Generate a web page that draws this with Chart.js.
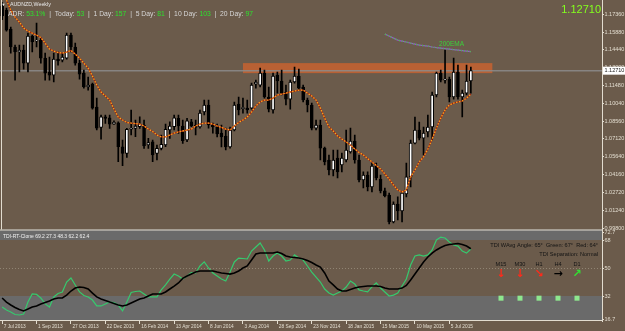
<!DOCTYPE html>
<html><head><meta charset="utf-8">
<script src="https://cdn.jsdelivr.net/npm/chart.js@4.4.1/dist/chart.umd.min.js"></script>
<style>html,body{margin:0;padding:0;background:#6b5b4b;overflow:hidden}canvas{display:block}</style>
</head><body><canvas id="c" width="625" height="331"></canvas>
<script>
// ---------- DATA ----------
const symbolTitle = 'AUDNZD,Weekly';
const dateLabels = ['7 Jul 2013','1 Sep 2013','27 Oct 2013','22 Dec 2013','16 Feb 2014','13 Apr 2014','8 Jun 2014','3 Aug 2014','28 Sep 2014','23 Nov 2014','18 Jan 2015','15 Mar 2015','10 May 2015','5 Jul 2015'];
const weeksPerDateLabel = 8;
const weeksVisible = 140;
const priceTicks = [1.17360,1.15880,1.14440,1.13000,1.11480,1.10040,1.08560,1.07120,1.05640,1.04160,1.02720,1.01240,0.99800];
const tdiTicks = [72.7,68,50,32,16.7];
const tdiLevels = [68,50,32];

const open = [
1.1800,1.1768,1.1612,1.1465,1.1424,1.1440,1.1333,1.1555,1.1514,1.1522,
1.1374,1.1260,1.1235,1.1366,1.1358,1.1374,1.1563,1.1465,1.1333,1.1251,
1.1137,1.1161,1.0973,1.0806,1.0893,1.0885,1.0833,1.0844,1.0647,1.0593,
1.0790,1.0798,1.0811,1.0825,1.0661,1.0688,1.0593,1.0634,1.0661,1.0784,
1.0811,1.0880,1.0817,1.0702,1.0852,1.0825,1.0809,1.0932,1.0989,1.0825,
1.0809,1.0759,1.0735,1.0645,1.0784,1.0997,1.0960,1.0964,1.0964,1.1161,
1.1153,1.1251,1.1055,1.0948,1.1235,1.1186,1.1096,1.1038,1.1178,1.1227,
1.1137,1.1030,1.0989,1.0800,1.0825,1.0636,1.0538,1.0456,1.0554,1.0497,
1.0538,1.0604,1.0694,1.0538,1.0374,1.0415,1.0317,1.0489,1.0382,1.0284,
1.0251,1.0030,1.0177,1.0120,1.0259,1.0399,1.0677,1.0784,1.0718,1.0768,
1.0809,1.1071,1.1251,1.1194,1.1202,1.1055,1.1260,1.1055,1.1087,1.1186];
const high = [
1.1830,1.1784,1.1629,1.1481,1.1481,1.1481,1.1579,1.1563,1.1661,1.1538,
1.1415,1.1383,1.1415,1.1424,1.1415,1.1579,1.1579,1.1497,1.1358,1.1276,
1.1219,1.1169,1.1046,1.0907,1.0907,1.0907,1.0860,1.0852,1.0702,1.0798,
1.0948,1.0866,1.0893,1.0866,1.0716,1.0702,1.0661,1.0743,1.0833,1.0852,
1.0907,1.0907,1.0866,1.0880,1.0872,1.0866,1.0948,1.1030,1.1030,1.0841,
1.0833,1.0825,1.0800,1.0809,1.1014,1.1055,1.1046,1.1030,1.1169,1.1194,
1.1292,1.1276,1.1137,1.1251,1.1260,1.1276,1.1153,1.1194,1.1301,1.1284,
1.1153,1.1046,1.1005,1.0866,1.0866,1.0645,1.0579,1.0620,1.0620,1.0595,
1.0784,1.0800,1.0743,1.0579,1.0440,1.0440,1.0513,1.0513,1.0415,1.0308,
1.0267,1.0194,1.0235,1.0276,1.0513,1.0702,1.0891,1.0850,1.0809,1.0907,
1.1096,1.1260,1.1276,1.1440,1.1219,1.1374,1.1317,1.1112,1.1317,1.1301];
const low = [
1.1690,1.1596,1.1415,1.1194,1.1260,1.1284,1.1260,1.1424,1.1465,1.1333,
1.1194,1.1194,1.1178,1.1317,1.1342,1.1366,1.1424,1.1317,1.1202,1.1128,
1.1112,1.0956,1.0784,1.0708,1.0839,1.0798,1.0829,1.0524,1.0491,1.0560,
1.0743,1.0729,1.0798,1.0634,1.0634,1.0524,1.0538,1.0620,1.0647,1.0716,
1.0784,1.0757,1.0675,1.0688,1.0811,1.0743,1.0800,1.0907,1.0800,1.0759,
1.0727,1.0645,1.0620,1.0636,1.0776,1.0907,1.0923,1.0923,1.0956,1.1128,
1.1137,1.1046,1.0932,1.0923,1.1087,1.1071,1.0989,1.0956,1.1169,1.1112,
1.1014,1.0932,1.0784,1.0784,1.0538,1.0497,1.0415,1.0407,1.0390,1.0440,
1.0522,1.0595,1.0513,1.0358,1.0308,1.0284,1.0276,1.0374,1.0267,1.0235,
1.0013,1.0021,1.0046,1.0030,1.0235,1.0317,1.0669,1.0702,1.0579,1.0727,
1.0702,1.1055,1.1178,1.1169,1.1014,1.1038,1.1038,1.0891,1.1071,1.1087];
const close = [
1.1720,1.1604,1.1465,1.1424,1.1440,1.1333,1.1555,1.1506,1.1522,1.1374,
1.1251,1.1235,1.1366,1.1350,1.1383,1.1563,1.1465,1.1333,1.1243,1.1137,
1.1153,1.0964,1.0800,1.0893,1.0880,1.0833,1.0847,1.0647,1.0593,1.0790,
1.0798,1.0817,1.0833,1.0653,1.0680,1.0579,1.0634,1.0667,1.0790,1.0817,
1.0885,1.0817,1.0696,1.0860,1.0817,1.0806,1.0923,1.0989,1.0825,1.0809,
1.0751,1.0727,1.0645,1.0784,1.0989,1.0948,1.0969,1.0948,1.1153,1.1178,
1.1251,1.1055,1.0956,1.1227,1.1186,1.1087,1.1038,1.1178,1.1227,1.1128,
1.1030,1.0989,1.0800,1.0825,1.0636,1.0522,1.0456,1.0538,1.0440,1.0554,
1.0620,1.0694,1.0538,1.0374,1.0415,1.0317,1.0489,1.0390,1.0284,1.0243,
1.0030,1.0177,1.0120,1.0267,1.0399,1.0677,1.0784,1.0718,1.0759,1.0809,
1.1071,1.1251,1.1194,1.1202,1.1055,1.1260,1.1055,1.1087,1.1186,1.1271];

const emaFast = [
1.1883,1.1850,1.1768,1.1711,1.1670,1.1620,1.1596,1.1579,1.1563,1.1543,
1.1497,1.1448,1.1432,1.1420,1.1415,1.1424,1.1436,1.1407,1.1374,1.1333,
1.1292,1.1227,1.1153,1.1096,1.1063,1.1030,1.0956,1.0891,1.0866,1.0846,
1.0841,1.0837,1.0833,1.0817,1.0792,1.0772,1.0743,1.0727,1.0727,1.0743,
1.0759,1.0768,1.0776,1.0784,1.0792,1.0817,1.0833,1.0841,1.0841,1.0833,
1.0817,1.0805,1.0792,1.0784,1.0817,1.0846,1.0866,1.0891,1.0932,1.0981,
1.1014,1.1030,1.1030,1.1046,1.1071,1.1079,1.1087,1.1096,1.1104,1.1112,
1.1112,1.1087,1.1063,1.1030,1.0964,1.0882,1.0809,1.0776,1.0735,1.0710,
1.0686,1.0661,1.0628,1.0600,1.0579,1.0550,1.0522,1.0493,1.0464,1.0423,
1.0382,1.0333,1.0292,1.0276,1.0292,1.0399,1.0456,1.0522,1.0563,1.0628,
1.0710,1.0800,1.0882,1.0948,1.0989,1.1005,1.1014,1.1022,1.1046,1.1079];
const ema200Start = 89;
const ema200 = [1.1571,1.1555,1.1538,1.1522,1.1514,1.1506,1.1497,1.1489,1.1481,1.1477,1.1473,1.1465,1.1460,1.1456,1.1452,1.1448,1.1444,1.1440,1.1436,1.1432,1.1428];

const tdiGreen = [
24.9,23.0,21.7,20.1,19.8,20.4,28.1,33.3,33.0,30.7,
26.9,24.9,31.4,33.6,34.6,41.0,43.6,39.1,34.6,32.3,
31.4,29.4,25.6,25.6,26.9,28.1,27.8,26.2,22.4,28.1,
34.3,34.9,35.2,33.3,31.4,31.4,31.4,35.9,39.1,42.9,
46.1,44.9,42.9,44.9,47.1,46.8,51.3,53.9,50.0,46.8,
44.9,42.9,41.6,47.4,53.9,56.4,56.1,55.8,60.9,63.5,
66.1,61.6,54.5,57.7,59.6,57.7,54.5,55.1,58.4,56.4,
55.1,51.3,47.4,44.2,41.0,36.5,33.9,32.6,33.9,35.2,
37.8,41.6,39.7,35.9,35.2,34.6,37.8,40.4,37.1,34.6,
32.0,32.6,33.9,38.4,42.9,51.9,57.7,58.4,57.7,58.4,
61.6,68.0,69.9,69.3,66.7,64.8,64.1,60.9,59.6,62.2];
const tdiSignal = [
30.7,28.1,26.2,24.6,23.3,22.4,23.6,24.9,25.6,26.9,
27.8,28.8,30.1,30.7,30.7,32.6,35.2,37.1,37.8,37.5,
36.5,33.9,31.4,30.1,29.1,28.1,27.2,26.2,25.6,26.2,
27.5,28.8,30.1,30.7,32.0,33.3,33.3,33.3,34.6,36.5,
38.4,40.4,43.3,44.9,46.1,47.4,48.1,48.1,48.1,48.1,
47.4,46.8,46.5,46.1,46.8,48.1,50.0,51.3,55.1,59.0,
59.6,59.6,59.6,59.6,60.3,59.3,57.7,57.1,56.7,56.4,
55.8,54.8,53.5,51.9,50.6,46.8,41.6,39.1,36.5,35.2,
35.2,36.2,37.1,37.8,38.1,38.4,38.4,38.4,38.1,37.1,
36.5,36.5,36.5,37.1,38.8,42.3,46.1,50.0,53.9,57.1,
59.6,61.6,63.2,64.5,65.1,65.4,65.7,65.1,64.1,62.4];

const zone = {fromWeek:56, toWeek:114, top:1.1333, bottom:1.1251};
const adrParts = [['ADR: ',0],['53.1%',1],['  |  Today: ',0],['53',1],['  |  1 Day: ',0],['157',1],['  |  5 Day: ',0],['81',1],['  |  10 Day: ',0],['103',1],['  |  20 Day: ',0],['97',1]];
const tdiHeader = 'TDI-RT-Clone 69.2 27.3 48.3 62.2 62.4';
const tdiInfo = ['TDI WAvg Angle: 65°  Green: 67°  Red: 64°','TDI Separation: Normal'];
const timeframes = ['M15','M30','H1','H4','D1'];
const tfArrows = ['↓','↓','↘','→','↗'];
const tfArrowColors = ['#ff2a1a','#ff2a1a','#ff2a1a','#000000','#33e033'];
const emaLabel = {text:'200EMA', week:104.5, price:1.1489};

// ---------- STYLE ----------
const BG='#6b5b4b', GRAY='#6a6a6a', CREAM='#e2dccf';
const FONT='Liberation Sans';
Chart.defaults.font.family = FONT;

const wickData = open.map((o,i)=>({x:i,y:[low[i],high[i]]}));
const bodyData = open.map((o,i)=>({x:i,y:[o,close[i]]}));
const bodyColors = open.map((o,i)=> close[i]>=o ? '#ffffff' : '#000000');
const pts = (arr,start=0)=>arr.map((v,i)=>({x:i+start,y:v}));

const decor = {
  id:'decor',
  beforeDraw(chart){
    const c=chart.ctx; c.save(); c.fillStyle=BG; c.fillRect(0,0,chart.width,chart.height); c.restore();
  },
  beforeDatasetsDraw(chart){
    const c=chart.ctx, ca=chart.chartArea, {x,y,y2}=chart.scales;
    c.save();
    const yHi=y2.getPixelForValue(tdiLevels[0]), yLo=y2.getPixelForValue(tdiLevels[2]);
    c.fillStyle=GRAY;
    c.fillRect(ca.left,y2.top,ca.right-ca.left,yHi-y2.top);
    c.fillRect(ca.left,yLo,ca.right-ca.left,y2.bottom-yLo);
    const y50=Math.round(y2.getPixelForValue(tdiLevels[1]))+0.5;
    c.strokeStyle='rgba(175,165,150,0.55)'; c.lineWidth=1; c.setLineDash([1,2]);
    c.beginPath(); c.moveTo(ca.left,y50); c.lineTo(ca.right,y50); c.stroke(); c.setLineDash([]);
    const zx0=x.getPixelForValue(zone.fromWeek), zx1=x.getPixelForValue(zone.toWeek);
    const zy0=y.getPixelForValue(zone.top), zy1=y.getPixelForValue(zone.bottom);
    c.fillStyle='rgba(192,98,50,0.92)';
    c.fillRect(zx0,zy0,zx1-zx0,zy1-zy0);
    const by=y.getPixelForValue(close[close.length-1]);
    c.strokeStyle='rgba(140,140,140,0.85)'; c.lineWidth=1.5;
    c.beginPath(); c.moveTo(ca.left,by); c.lineTo(ca.right,by); c.stroke();
    c.restore();
  },
  afterDraw(chart){
    const c=chart.ctx, ca=chart.chartArea, {x,y,y2}=chart.scales;
    c.save();
    c.strokeStyle=CREAM; c.lineWidth=1;
    c.beginPath(); c.moveTo(ca.left,y2.top+0.5); c.lineTo(ca.right,y2.top+0.5); c.stroke();
    c.beginPath(); c.moveTo(ca.left,y2.bottom-0.5); c.lineTo(ca.right,y2.bottom-0.5); c.stroke();
    c.beginPath(); c.moveTo(1.5,0); c.lineTo(1.5,y.bottom); c.stroke();
    c.textBaseline='middle'; c.textAlign='left';
    c.fillStyle='#e8e8e8'; c.font='4px '+FONT; c.fillText('▼',1.5,4.5);
    c.font='5.3px '+FONT; c.fillText(symbolTitle,10,4.5);
    c.font='6.8px '+FONT; let ax=8;
    adrParts.forEach(([t,isVal])=>{ c.fillStyle=isVal?'#2ee02e':'#d6d6d6'; c.fillText(t,ax,14.5); ax+=c.measureText(t).width; });
    c.textAlign='right'; c.fillStyle='#84ff1e'; c.font='11px '+FONT;
    c.fillText(close[close.length-1].toFixed(5),601,10);
    const by=y.getPixelForValue(close[close.length-1]);
    c.fillStyle='#ffffff'; c.fillRect(603,by-4,22,8);
    c.fillStyle='#202020'; c.textAlign='left'; c.font='5.5px '+FONT;
    c.fillText(close[close.length-1].toFixed(5),604.5,by+0.3);
    c.fillStyle='#3ccf3c'; c.textAlign='center'; c.font='6.5px '+FONT;
    c.fillText(emaLabel.text,x.getPixelForValue(emaLabel.week),y.getPixelForValue(emaLabel.price));
    c.textAlign='left'; c.fillStyle='#f0f0f0'; c.font='5px '+FONT;
    c.fillText(tdiHeader,3,y2.top+7);
    c.textAlign='right'; c.fillStyle='#141414'; c.font='5.6px '+FONT;
    c.fillText(tdiInfo[0],598,y2.getPixelForValue(64.2));
    c.fillText(tdiInfo[1],598,y2.getPixelForValue(59.0));
    c.textAlign='center';
    const tfY=y2.getPixelForValue(52.5), arY=y2.getPixelForValue(45.9), sqY=y2.getPixelForValue(30.6);
    timeframes.forEach((tf,k)=>{
      const cx=501+k*19;
      c.fillStyle='#141414'; c.font='5.6px '+FONT; c.fillText(tf,cx,tfY);
      c.fillStyle=tfArrowColors[k]; c.font='bold 11px DejaVu Sans'; c.fillText(tfArrows[k],cx,arY);
      c.fillStyle='#8ee88e'; c.fillRect(cx-2.5,sqY-2.5,5,5);
    });
    c.restore();
  }
};

const yAfterFit = s => { s.width=23; s.paddingTop=0; s.paddingBottom=0; };

new Chart(document.getElementById('c'), {
  type:'line',
  data:{datasets:[
    {type:'line',label:'ema fast dots',data:pts(emaFast),yAxisID:'y',borderColor:'#ffa21c',borderWidth:1.3,borderDash:[1.5,1.5],pointRadius:0,tension:0,order:0},
    {type:'line',label:'ema fast',data:pts(emaFast),yAxisID:'y',borderColor:'#9b2410',borderWidth:1.3,pointRadius:0,tension:0,order:1},
    {type:'line',label:'ema200 dots',data:pts(ema200,ema200Start),yAxisID:'y',borderColor:'#4fb84f',borderWidth:1.2,borderDash:[1.5,1.5],pointRadius:0,tension:0,order:0},
    {type:'line',label:'ema200',data:pts(ema200,ema200Start),yAxisID:'y',borderColor:'#9a4fd0',borderWidth:1.2,pointRadius:0,tension:0,order:1},
    {type:'bar',label:'body',data:bodyData,yAxisID:'y',backgroundColor:bodyColors,borderColor:'#000',borderWidth:1,borderSkipped:false,grouped:false,maxBarThickness:3,categoryPercentage:1,barPercentage:1,minBarLength:1,order:2},
    {type:'bar',label:'wick',data:wickData,yAxisID:'y',backgroundColor:'#000',borderWidth:0,grouped:false,maxBarThickness:1,categoryPercentage:1,barPercentage:1,order:3},
    {type:'line',label:'tdi green',data:pts(tdiGreen),yAxisID:'y2',borderColor:'#36c96e',borderWidth:1.2,pointRadius:0,tension:0,order:1},
    {type:'line',label:'tdi signal',data:pts(tdiSignal),yAxisID:'y2',borderColor:'#000000',borderWidth:1.6,pointRadius:0,tension:0,order:0}
  ]},
  options:{
    responsive:false, animation:false, events:[],
    layout:{padding:0},
    plugins:{legend:{display:false},tooltip:{enabled:false}},
    scales:{
      x:{type:'linear',position:'bottom',min:-0.5,max:weeksVisible-0.5,offset:false,
        afterBuildTicks:s=>{ s.ticks=dateLabels.map((l,k)=>({value:k*weeksPerDateLabel})); },
        afterFit:s=>{ s.height=10; s.paddingLeft=0; s.paddingRight=0; },
        ticks:{autoSkip:false,maxRotation:0,minRotation:0,align:'start',labelOffset:1.5,padding:0,color:CREAM,font:{size:4.8},
          callback:(v,i)=>dateLabels[i]},
        grid:{display:true,drawOnChartArea:false,drawTicks:true,tickLength:3,color:CREAM,offset:false},
        border:{display:false}},
      y:{type:'linear',position:'right',stack:'pane',stackWeight:229.5,weight:1,min:0.99677,max:1.18509,beginAtZero:false,
        afterBuildTicks:s=>{ s.ticks=priceTicks.map(v=>({value:v})); },
        afterFit:yAfterFit,
        ticks:{autoSkip:false,padding:0.5,color:CREAM,font:{size:5.5},callback:v=>v.toFixed(5)},
        grid:{drawOnChartArea:false,drawTicks:true,tickLength:2,color:CREAM},
        border:{display:true,color:CREAM,width:1}},
      y2:{type:'linear',position:'right',stack:'pane',stackWeight:91.5,weight:1,min:15.93,max:74.75,beginAtZero:false,
        afterBuildTicks:s=>{ s.ticks=tdiTicks.map(v=>({value:v})); },
        afterFit:yAfterFit,
        ticks:{autoSkip:false,padding:0.5,color:CREAM,font:{size:5.5},callback:v=>String(v)},
        grid:{drawOnChartArea:false,drawTicks:true,tickLength:2,color:CREAM},
        border:{display:true,color:CREAM,width:1}}
    }
  },
  plugins:[decor]
});
</script></body></html>
